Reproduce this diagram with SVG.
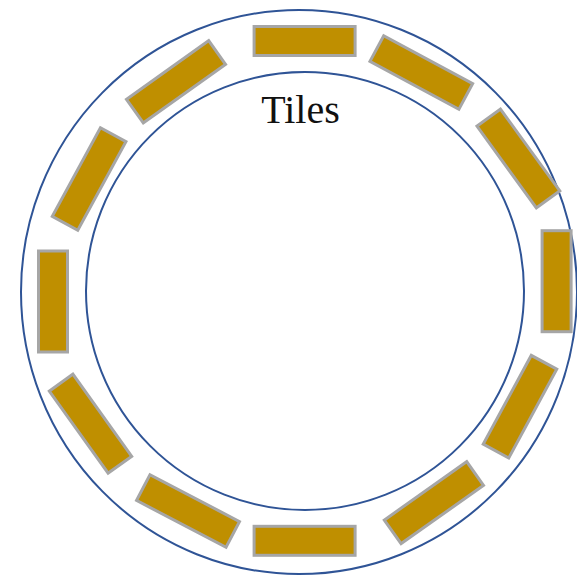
<svg xmlns="http://www.w3.org/2000/svg" width="577" height="577" viewBox="0 0 577 577">
  <style>
    .ring { fill: none; stroke: #2F5496; stroke-width: 2; }
    .tile { fill: #BF8F00; stroke: #A6A6A6; stroke-width: 3; }
    .label { font-family: "Liberation Serif", "Times New Roman", serif; font-size: 40px; fill: #111111; }
  </style>
  <rect width="577" height="577" fill="#ffffff"/>

  <!-- outer and inner boundaries of the ring -->
  <g id="rings">
    <ellipse class="ring" cx="299" cy="292" rx="278" ry="282"/>
    <circle class="ring" cx="305" cy="291" r="219"/>
  </g>

  <!-- tiles, each centred at its spot on the ring and turned along it -->
  <defs>
    <rect id="tileShape" class="tile" x="-50.5" y="-14.5" width="101" height="29"/>
  </defs>
  <g id="tile-01" transform="translate(304.6 41) rotate(0)"><use href="#tileShape"/></g>
  <g id="tile-02" transform="translate(421.3 72.5) rotate(28.3)"><use href="#tileShape"/></g>
  <g id="tile-03" transform="translate(518.4 158.5) rotate(54)"><use href="#tileShape"/></g>
  <g id="tile-04" transform="translate(556.6 281.2) rotate(90)"><use href="#tileShape"/></g>
  <g id="tile-05" transform="translate(520 406.7) rotate(118.4)"><use href="#tileShape"/></g>
  <g id="tile-06" transform="translate(433.9 502.7) rotate(144.7)"><use href="#tileShape"/></g>
  <g id="tile-07" transform="translate(304.6 540.8) rotate(180)"><use href="#tileShape"/></g>
  <g id="tile-08" transform="translate(188 511) rotate(27.6)"><use href="#tileShape"/></g>
  <g id="tile-09" transform="translate(90.5 423.7) rotate(54.4)"><use href="#tileShape"/></g>
  <g id="tile-10" transform="translate(53 301.5) rotate(90)"><use href="#tileShape"/></g>
  <g id="tile-11" transform="translate(89.1 179) rotate(-61.5)"><use href="#tileShape"/></g>
  <g id="tile-12" transform="translate(176 81.8) rotate(-35.5)"><use href="#tileShape"/></g>

  <g id="title">
    <text class="label" x="300.5" y="123" text-anchor="middle">Tiles</text>
  </g>
</svg>
